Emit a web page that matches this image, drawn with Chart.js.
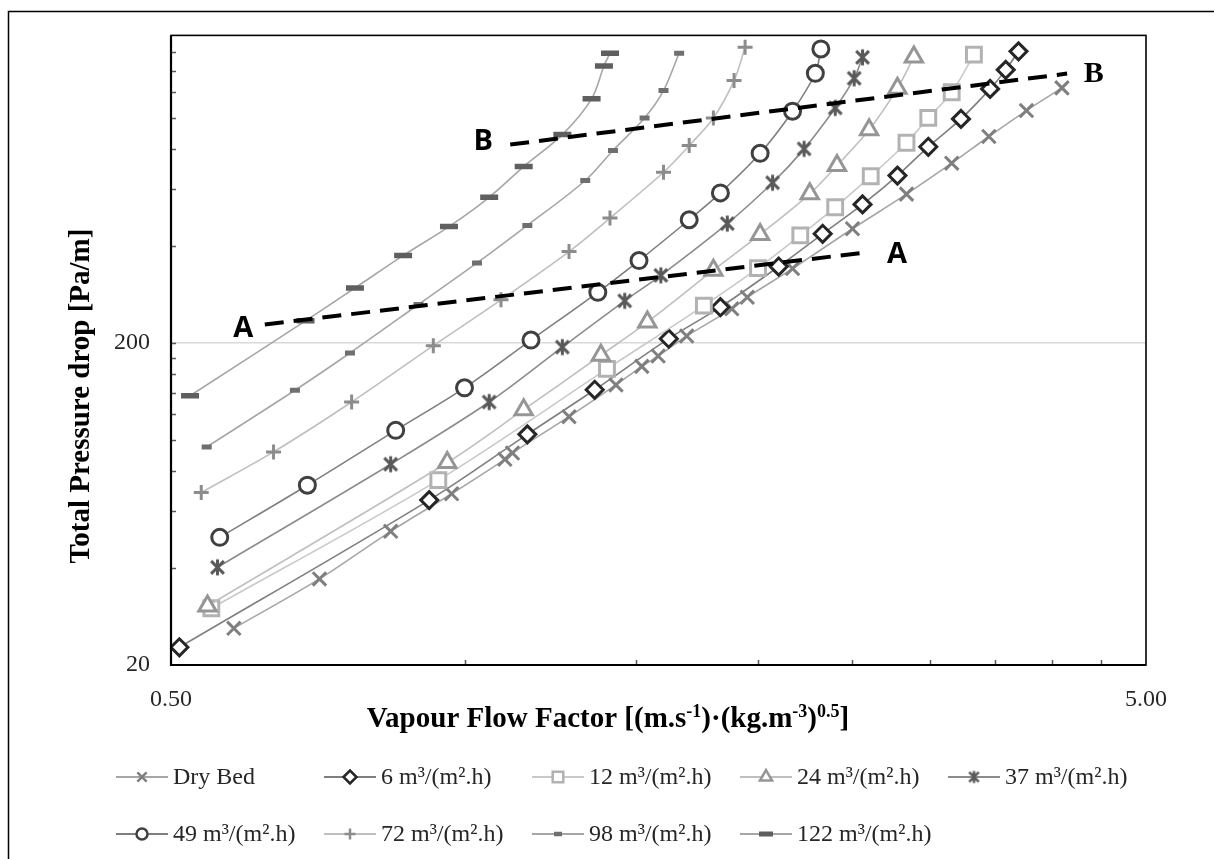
<!DOCTYPE html>
<html>
<head>
<meta charset="utf-8">
<title>Total pressure drop vs vapour flow factor</title>
<script src="https://cdn.jsdelivr.net/npm/chart.js@4.4.1/dist/chart.umd.min.js"></script>
<style>
  html, body { margin: 0; padding: 0; background: #fff; }
  #wrap { width: 1214px; height: 859px; }
</style>
</head>
<body>
<div id="wrap"><canvas id="dpChart" width="1214" height="859"></canvas></div>
<script>
// Vapour flow factor F [(m/s)(kg/m3)^0.5] and total pressure drop [Pa/m] per liquid load
const seriesNames = ["Dry Bed", "6 m³/(m².h)", "12 m³/(m².h)", "24 m³/(m².h)", "37 m³/(m².h)",
  "49 m³/(m².h)", "72 m³/(m².h)", "98 m³/(m².h)", "122 m³/(m².h)"];

const fDry = [0.58, 0.71, 0.84, 0.97, 1.10, 1.12, 1.28, 1.43, 1.52, 1.58, 1.69, 1.88, 1.95, 2.17, 2.50, 2.84, 3.16, 3.45, 3.77, 4.10];
const dpDry = [26, 37, 52, 68, 87, 91, 118, 148, 169, 182, 210, 255, 277, 340, 452, 579, 722, 874, 1052, 1237];

const f6 = [0.51, 0.92, 1.16, 1.36, 1.62, 1.83, 2.10, 2.33, 2.56, 2.78, 2.99, 3.23, 3.46, 3.59, 3.70];
const dp6 = [22.7, 65, 104, 143, 206, 258, 345, 436, 538, 661, 812, 991, 1228, 1407, 1606];

const f12 = [0.55, 0.94, 1.40, 1.76, 2.00, 2.21, 2.40, 2.61, 2.84, 2.99, 3.16, 3.33];
const dp12 = [30.0, 75, 166, 261, 341, 431, 527, 658, 836, 998, 1199, 1569];

const f24 = [0.545, 0.96, 1.15, 1.38, 1.54, 1.80, 2.01, 2.26, 2.41, 2.60, 2.78, 2.89];
const dp24 = [30.5, 85, 124, 183, 232, 336, 434, 580, 710, 917, 1233, 1543];

const f37 = [0.558, 0.84, 1.06, 1.26, 1.46, 1.59, 1.86, 2.07, 2.23, 2.40, 2.51, 2.56];
const dp37 = [40.2, 84, 131, 194, 270, 324, 469, 628, 800, 1072, 1325, 1539];

const f49 = [0.561, 0.69, 0.85, 1.00, 1.17, 1.37, 1.51, 1.70, 1.83, 2.01, 2.17, 2.29, 2.32];
const dp49 = [49.8, 72.3, 107, 145, 204, 287, 360, 482, 584, 775, 1047, 1373, 1634];

const f72 = [0.537, 0.637, 0.766, 0.929, 1.09, 1.28, 1.41, 1.60, 1.70, 1.80, 1.89, 1.94];
const dp72 = [68.6, 91.7, 131, 196, 272, 384, 488, 677, 819, 998, 1303, 1653];

const f98 = [0.544, 0.670, 0.763, 0.897, 1.03, 1.16, 1.33, 1.42, 1.53, 1.60, 1.66];
const dp98 = [95, 142.5, 186, 263, 354, 463, 638, 791, 998, 1213, 1584];

const f122 = [0.523, 0.687, 0.772, 0.865, 0.964, 1.06, 1.15, 1.26, 1.35, 1.39, 1.41];
const dp122 = [137, 234, 296, 373, 459, 566, 705, 886, 1144, 1447, 1584];

// loading (A) and flooding (B) limit lines
const lineAF = [0.624, 2.587];
const lineADp = [228, 382];
const lineBF = [1.114, 4.15];
const lineBDp = [825, 1370];
const limitLetters = ["A", "A", "B", "B"];
const limitLetterF = [0.593, 2.777, 1.045, 4.42];
const limitLetterDp = [222, 379, 849, 1370];

// axis ticks
const xTickValues = [0.5, 1, 1.5, 2, 2.5, 3, 3.5, 4, 4.5, 5];
const xTickLabels = ["0.50", "", "", "", "", "", "", "", "", "5.00"];
const yTickValues = [20, 40, 60, 80, 100, 120, 140, 160, 180, 200, 400, 600, 800, 1000, 1200, 1400, 1600, 1800];
const yTickLabels = ["20", "", "", "", "", "", "", "", "", "200", "", "", "", "", "", "", "", ""];

const seriesF = [fDry, f6, f12, f24, f37, f49, f72, f98, f122];
const seriesDp = [dpDry, dp6, dp12, dp24, dp37, dp49, dp72, dp98, dp122];

// asterisk marker (X with a vertical bar)
function makeAsterisk(color, r, w) {
  const size = Math.ceil(2 * r + w + 2);
  const cv = document.createElement("canvas");
  cv.width = size; cv.height = size;
  const c = cv.getContext("2d");
  const m = size / 2, d = r * 0.8;
  c.strokeStyle = color; c.lineWidth = w;
  c.beginPath();
  c.moveTo(m - d, m - d); c.lineTo(m + d, m + d);
  c.moveTo(m + d, m - d); c.lineTo(m - d, m + d);
  c.moveTo(m, m - r); c.lineTo(m, m + r);
  c.stroke();
  return cv;
}

const seriesStyle = [
  { line: "#a6a6a6", marker: "#7f7f7f", fill: "#ffffff", style: "crossRot", radius: 9.5, width: 3, lRadius: 6.5, lWidth: 2.5 },
  { line: "#7f7f7f", marker: "#262626", fill: "#ffffff", style: "rectRot", radius: 8.5, width: 3, lRadius: 6.5, lWidth: 2.5 },
  { line: "#c9c9c9", marker: "#b2b2b2", fill: "#ffffff", style: "rect", radius: 10.5, width: 3, lRadius: 7.5, lWidth: 2.5 },
  { line: "#bfbfbf", marker: "#969696", fill: "#ffffff", style: "triangle", radius: 10, width: 3, lRadius: 7, lWidth: 2.5 },
  { line: "#8c8c8c", marker: "#595959", fill: "#ffffff", style: makeAsterisk("#595959", 8, 3), radius: 8, width: 3,
    lStyle: makeAsterisk("#595959", 6, 2.5), lRadius: 6, lWidth: 2.5 },
  { line: "#7f7f7f", marker: "#404040", fill: "#ffffff", style: "circle", radius: 8, width: 3, lRadius: 5.5, lWidth: 2.5 },
  { line: "#bfbfbf", marker: "#8c8c8c", fill: "#ffffff", style: "cross", radius: 7.5, width: 3, lRadius: 5.5, lWidth: 2.5 },
  { line: "#a6a6a6", marker: "#6f6f6f", fill: "#ffffff", style: "line", radius: 5, width: 5, lRadius: 4, lWidth: 4.5 },
  { line: "#a6a6a6", marker: "#5f5f5f", fill: "#ffffff", style: "line", radius: 9, width: 5.5, lRadius: 7, lWidth: 5 },
];

const datasets = [
  {
    label: "A",
    data: lineAF.map((f, k) => ({ x: f, y: lineADp[k] })),
    showLine: true, borderColor: "#000", borderWidth: 4, borderDash: [19, 10],
    pointRadius: 0, tension: 0, order: 0,
  },
  {
    label: "B",
    data: lineBF.map((f, k) => ({ x: f, y: lineBDp[k] })),
    showLine: true, borderColor: "#000", borderWidth: 4, borderDash: [19, 10],
    pointRadius: 0, tension: 0, order: 0,
  },
];

seriesNames.forEach((name, i) => {
  const s = seriesStyle[i];
  datasets.push({
    label: name,
    data: seriesF[i].map((f, k) => ({ x: f, y: seriesDp[i][k] })),
    showLine: true,
    borderColor: s.line,
    borderWidth: 1.6,
    tension: 0.33,
    pointStyle: s.style,
    pointRadius: s.radius,
    pointBorderWidth: s.width,
    pointBorderColor: s.marker,
    pointBackgroundColor: s.fill,
    order: 20 - i,
  });
});

// superscript-aware text: parts are [text, isSuperscript]
function drawRichText(c, parts, cx, cy, size) {
  const base = "bold " + size + "px 'Liberation Serif'";
  const sup = "bold " + Math.round(size * 0.62) + "px 'Liberation Serif'";
  let total = 0;
  parts.forEach(([t, s]) => { c.font = s ? sup : base; total += c.measureText(t).width; });
  let x = cx - total / 2;
  c.textAlign = "left";
  c.textBaseline = "alphabetic";
  parts.forEach(([t, s]) => {
    c.font = s ? sup : base;
    c.fillText(t, x, s ? cy - size * 0.36 : cy);
    x += c.measureText(t).width;
  });
}

const chartDecor = {
  id: "chartDecor",
  beforeDraw(chart) {
    const c = chart.ctx;
    c.save();
    c.fillStyle = "#fff";
    c.fillRect(0, 0, chart.width, chart.height);
    // outer frame
    c.strokeStyle = "#000";
    c.lineWidth = 1.5;
    c.beginPath();
    c.moveTo(8.5, chart.height);
    c.lineTo(8.5, 11.5);
    c.lineTo(chart.width, 11.5);
    c.stroke();
    c.restore();
  },
  afterDatasetsDraw(chart) {
    const c = chart.ctx;
    const { x, y } = chart.scales;
    c.save();
    limitLetters.forEach((t, i) => {
      const serif = i === 3;
      c.font = serif ? "bold 30px 'Liberation Serif'" : "bold 29px 'Open Sans'";
      c.fillStyle = "#000";
      c.textAlign = "center";
      c.textBaseline = "middle";
      c.fillText(t, x.getPixelForValue(limitLetterF[i]), y.getPixelForValue(limitLetterDp[i]) + 1);
    });
    c.restore();
  },
  afterDraw(chart) {
    const c = chart.ctx;
    const a = chart.chartArea;
    const { x, y } = chart.scales;
    c.save();

    // inner minor tick marks
    c.strokeStyle = "#595959";
    c.lineWidth = 1.5;
    c.beginPath();
    xTickValues.slice(1, -1).forEach(v => {
      const px = Math.round(x.getPixelForValue(v)) + 0.5;
      c.moveTo(px, a.bottom);
      c.lineTo(px, a.bottom - 5);
    });
    yTickValues.slice(1, -1).forEach(v => {
      const py = Math.round(y.getPixelForValue(v)) + 0.5;
      c.moveTo(a.left, py);
      c.lineTo(a.left + 5, py);
    });
    c.stroke();

    // plot area border
    c.strokeStyle = "#000";
    c.lineWidth = 1.6;
    c.strokeRect(a.left, a.top, a.right - a.left, a.bottom - a.top);
    c.lineWidth = 2.2;
    c.beginPath();
    c.moveTo(a.left, a.top);
    c.lineTo(a.left, a.bottom);
    c.lineTo(a.right, a.bottom);
    c.stroke();

    // axis titles
    c.fillStyle = "#000";
    drawRichText(c, [["Vapour Flow Factor [(m.s", false], ["-1", true], [")·(kg.m", false], ["-3", true],
      [")", false], ["0.5", true], ["]", false]], 608, 727, 29);
    c.save();
    c.translate(89, 396);
    c.rotate(-Math.PI / 2);
    drawRichText(c, [["Total Pressure drop [Pa/m]", false]], 0, 0, 29);
    c.restore();

    // legend
    c.font = "24px 'Liberation Serif'";
    c.textBaseline = "middle";
    c.textAlign = "left";
    seriesNames.forEach((name, i) => {
      const s = seriesStyle[i];
      const x0 = 116 + (i % 5) * 208;
      const y0 = i < 5 ? 777 : 834;
      c.strokeStyle = s.line;
      c.lineWidth = 2;
      c.beginPath();
      c.moveTo(x0, y0);
      c.lineTo(x0 + 52, y0);
      c.stroke();
      c.strokeStyle = s.marker;
      c.fillStyle = s.fill;
      c.lineWidth = s.lWidth;
      Chart.helpers.drawPoint(c, { pointStyle: s.lStyle || s.style, radius: s.lRadius, borderWidth: s.lWidth, rotation: 0 }, x0 + 26, y0);
      c.fillStyle = "#262626";
      c.fillText(name, x0 + 57, y0 + 1);
    });
    c.restore();
  },
};

Chart.defaults.font.family = "'Liberation Serif'";

new Chart(document.getElementById("dpChart"), {
  type: "scatter",
  data: { datasets },
  options: {
    responsive: false,
    animation: false,
    devicePixelRatio: 1,
    events: [],
    layout: { padding: { left: 0, right: 68, top: 34.5, bottom: 0 } },
    plugins: { legend: { display: false }, tooltip: { enabled: false } },
    scales: {
      x: {
        type: "logarithmic",
        position: "bottom",
        min: 0.5,
        max: 5,
        bounds: "data",
        afterBuildTicks: s => { s.ticks = xTickValues.map(v => ({ value: v })); },
        afterFit: s => { s.height = 194; },
        grid: { display: false },
        border: { display: false },
        ticks: {
          autoSkip: false,
          maxRotation: 0,
          padding: 12,
          color: "#262626",
          font: { size: 24 },
          callback: (v) => xTickLabels[xTickValues.indexOf(v)] || "",
        },
      },
      y: {
        type: "logarithmic",
        position: "left",
        min: 20,
        max: 1800,
        bounds: "data",
        afterBuildTicks: s => { s.ticks = yTickValues.map(v => ({ value: v })); },
        afterFit: s => { s.width = 171; },
        grid: {
          drawTicks: false,
          lineWidth: 1.5,
          color: ctx => (ctx.tick && ctx.tick.value === 200 ? "#d9d9d9" : "rgba(0,0,0,0)"),
        },
        border: { display: false },
        ticks: {
          autoSkip: false,
          padding: 21,
          color: "#262626",
          font: { size: 24 },
          callback: (v) => yTickLabels[yTickValues.indexOf(v)] || "",
        },
      },
    },
  },
  plugins: [chartDecor],
});
</script>
</body>
</html>
